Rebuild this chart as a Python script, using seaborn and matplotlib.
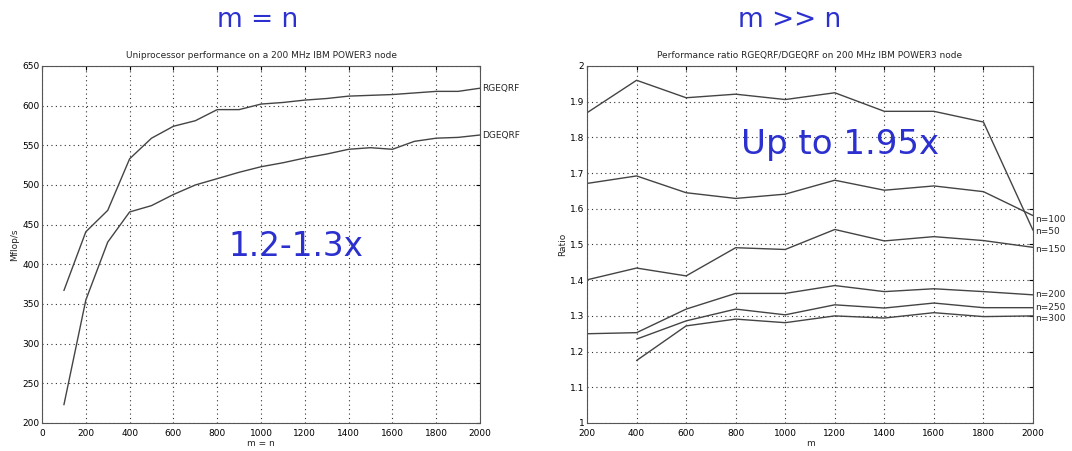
import matplotlib
matplotlib.use("Agg")
import numpy as np
import pandas as pd
import matplotlib.pyplot as plt
import seaborn as sns

# left panel: m = n
size_mn = [100, 200, 300, 400, 500, 600, 700, 800, 900, 1000,
           1100, 1200, 1300, 1400, 1500, 1600, 1700, 1800, 1900, 2000]
rgeqrf = [367, 441, 468, 533, 559, 574, 581, 595, 595, 602,
          604, 607, 609, 612, 613, 614, 616, 618, 618, 622]
dgeqrf = [223, 355, 428, 466, 474, 488, 500, 508, 516, 523,
          528, 534, 539, 545, 547, 545, 555, 559, 560, 563]

# right panel: m >> n, ratio RGEQRF/DGEQRF
m_vals = [200, 400, 600, 800, 1000, 1200, 1400, 1600, 1800, 2000]
ratio_n50 = [1.869, 1.960, 1.911, 1.921, 1.906, 1.925, 1.873, 1.873, 1.843, 1.540]
ratio_n100 = [1.671, 1.692, 1.645, 1.629, 1.641, 1.680, 1.652, 1.664, 1.648, 1.581]
ratio_n150 = [1.401, 1.434, 1.412, 1.491, 1.486, 1.542, 1.510, 1.522, 1.511, 1.492]
ratio_n200 = [1.250, 1.253, 1.319, 1.363, 1.363, 1.385, 1.368, 1.376, 1.368, 1.359]
ratio_n250 = [np.nan, 1.235, 1.286, 1.319, 1.303, 1.331, 1.322, 1.336, 1.323, 1.323]
ratio_n300 = [np.nan, 1.175, 1.272, 1.291, 1.281, 1.300, 1.294, 1.309, 1.298, 1.300]

ratio_series = {"n=50": ratio_n50, "n=100": ratio_n100, "n=150": ratio_n150,
                "n=200": ratio_n200, "n=250": ratio_n250, "n=300": ratio_n300}
label_offsets = {"n=50": -0.005, "n=100": -0.010, "n=150": -0.005,
                 "n=200": 0.0, "n=250": 0.0, "n=300": -0.008}

sns.set_style("white")
plt.rcParams["font.family"] = ["DejaVu Sans"]

LINE = "#444444"
BLUE = "#2b30cf"
SMALL = 6.5

fig = plt.figure(figsize=(10.72, 4.51), dpi=100)
ax1 = fig.add_axes([0.0392, 0.0621, 0.4086, 0.7916])
ax2 = fig.add_axes([0.5476, 0.0621, 0.416, 0.7916])


def matlab_style(ax):
    ax.grid(True, linestyle=(0, (1, 3)), color="#333333", linewidth=0.8)
    ax.tick_params(direction="in", length=3, labelsize=SMALL, top=True, right=True,
                   colors="black")
    ax.tick_params(axis="x", pad=4)
    ax.tick_params(axis="y", pad=2)
    for s in ax.spines.values():
        s.set_color("#555555")
        s.set_linewidth(0.8)


df_left = pd.DataFrame({"size": size_mn * 2,
                        "mflops": rgeqrf + dgeqrf,
                        "routine": ["RGEQRF"] * len(size_mn) + ["DGEQRF"] * len(size_mn)})
sns.lineplot(data=df_left, x="size", y="mflops", units="routine", estimator=None,
             color=LINE, linewidth=1.0, ax=ax1, legend=False)
ax1.set_xlim(0, 2000)
ax1.set_ylim(200, 650)
ax1.set_xticks(range(0, 2001, 200))
ax1.set_yticks(range(200, 651, 50))
matlab_style(ax1)
ax1.set_xlabel("m = n", fontsize=SMALL, labelpad=1)
ax1.set_ylabel("Mflop/s", fontsize=SMALL, labelpad=2)
ax1.set_title("Uniprocessor performance on a 200 MHz IBM POWER3 node", fontsize=SMALL, pad=6)
ax1.text(2010, rgeqrf[-1], "RGEQRF", fontsize=SMALL, va="center", ha="left", clip_on=False)
ax1.text(2010, dgeqrf[-1], "DGEQRF", fontsize=SMALL, va="center", ha="left", clip_on=False)
ax1.text(1160, 422, "1.2-1.3x", fontsize=23.5, color=BLUE, ha="center", va="center")

rows = []
for name, vals in ratio_series.items():
    for m, v in zip(m_vals, vals):
        rows.append({"m": m, "ratio": v, "n": name})
df_right = pd.DataFrame(rows).dropna()
sns.lineplot(data=df_right, x="m", y="ratio", units="n", estimator=None,
             color=LINE, linewidth=1.0, ax=ax2, legend=False)
ax2.set_xlim(200, 2000)
ax2.set_ylim(1, 2)
ax2.set_xticks(range(200, 2001, 200))
ax2.set_yticks(np.round(np.arange(1.0, 2.01, 0.1), 1))
ax2.set_yticklabels(["1", "1.1", "1.2", "1.3", "1.4", "1.5", "1.6", "1.7", "1.8", "1.9", "2"])
matlab_style(ax2)
ax2.set_xlabel("m", fontsize=SMALL, labelpad=1)
ax2.set_ylabel("Ratio", fontsize=SMALL, labelpad=2)
ax2.set_title("Performance ratio RGEQRF/DGEQRF on 200 MHz IBM POWER3 node", fontsize=SMALL, pad=6)
for name, vals in ratio_series.items():
    ax2.text(2008, vals[-1] + label_offsets[name], name, fontsize=SMALL,
             va="center", ha="left", clip_on=False)
ax2.text(1221, 1.78, "Up to 1.95x", fontsize=24.5, color=BLUE, ha="center", va="center")

fig.text(0.24, 0.955, "m = n", fontsize=19, color=BLUE, ha="center", va="center")
fig.text(0.737, 0.955, "m >> n", fontsize=19, color=BLUE, ha="center", va="center")

fig.savefig("out.png", dpi=100, facecolor="white")
